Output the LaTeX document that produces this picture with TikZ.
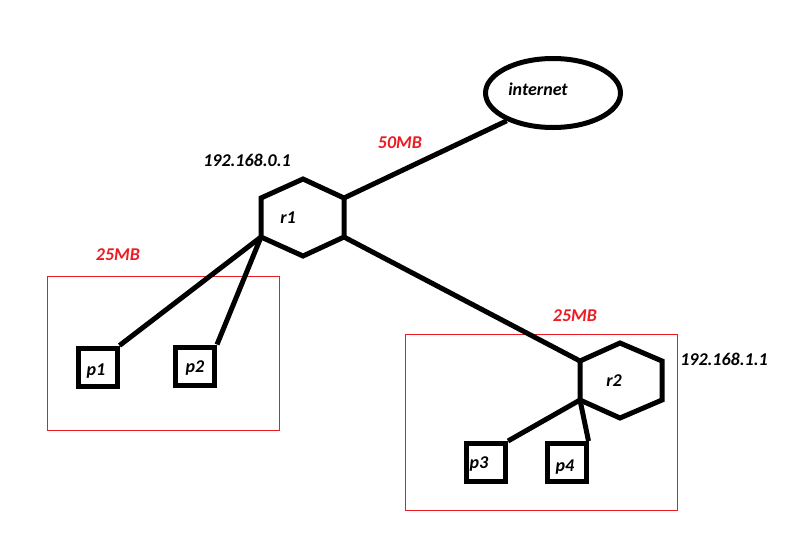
\documentclass[tikz,border=0pt]{standalone}
\usepackage{fontspec}
\setmainfont{Carlito}
\usetikzlibrary{shapes.geometric}
\definecolor{paintred}{RGB}{237,28,36}
\begin{document}
\begin{tikzpicture}[x=1pt,y=-1pt,
  lbl/.style={font=\fontsize{18}{21}\selectfont\bfseries\itshape, text=black, inner sep=0pt},
  redlbl/.style={lbl, text=paintred},
  thick line/.style={line width=5pt},
  pc/.style={draw, line width=5pt, minimum width=39pt, minimum height=38pt, inner sep=0pt},
  group/.style={draw=paintred, line width=1pt}]
\useasboundingbox (0,0) rectangle (792,544);
% internet
\node[ellipse, draw, line width=5pt, minimum width=135pt, minimum height=69pt] (inet) at (553,93) {};
\node[lbl] (inettxt) at (538,89) {internet};
% router r1
\coordinate (r1a) at (261,198);
\coordinate (r1b) at (303,179);
\coordinate (r1c) at (344,198);
\coordinate (r1d) at (344,237);
\coordinate (r1e) at (303,256);
\coordinate (r1f) at (261,237);
\draw[thick line] (r1a) -- (r1b) -- (r1c) -- (r1d) -- (r1e) -- (r1f) -- cycle;
\node[lbl] (r1) at (288,218) {r1};
% router r2
\coordinate (r2a) at (580,361);
\coordinate (r2b) at (620,343);
\coordinate (r2c) at (662,361);
\coordinate (r2d) at (662,400);
\coordinate (r2e) at (620,418);
\coordinate (r2f) at (580,400);
\draw[thick line] (r2a) -- (r2b) -- (r2c) -- (r2d) -- (r2e) -- (r2f) -- cycle;
\node[lbl] (r2) at (614,381) {r2};
% groups
\draw[group] (47,276) rectangle (279,430);
\draw[group] (405,334) rectangle (677,510);
% pcs
\node[pc] (p1) at (97.5,367) {};
\node[pc] (p2) at (195,366) {};
\node[pc] (p3) at (486,462.5) {};
\node[pc] (p4) at (566.5,462.5) {};
\node[lbl] (p1t) at (96,371) {p1};
\node[lbl] (p2t) at (195,368) {p2};
\node[lbl] (p3t) at (479,464) {p3};
\node[lbl] (p4t) at (565,467) {p4};
% links
\draw[thick line] (inet.211) -- (r1c);
\draw[thick line] (r1d) -- (r2a);
\draw[thick line] (r1f) -- (p1.north east);
\draw[thick line] (r1f) -- (p2.north east);
\draw[thick line] (r2f) -- (p3.north east);
\draw[thick line] (r2f) -- (p4.north east);
% labels
\node[lbl] (ip1) at (247,160) {192.168.0.1};
\node[lbl] (ip2) at (724,359) {192.168.1.1};
\node[redlbl] (bw1) at (400,143) {50MB};
\node[redlbl] (bw2) at (118,255) {25MB};
\node[redlbl] (bw3) at (575,316) {25MB};
\end{tikzpicture}
\end{document}
